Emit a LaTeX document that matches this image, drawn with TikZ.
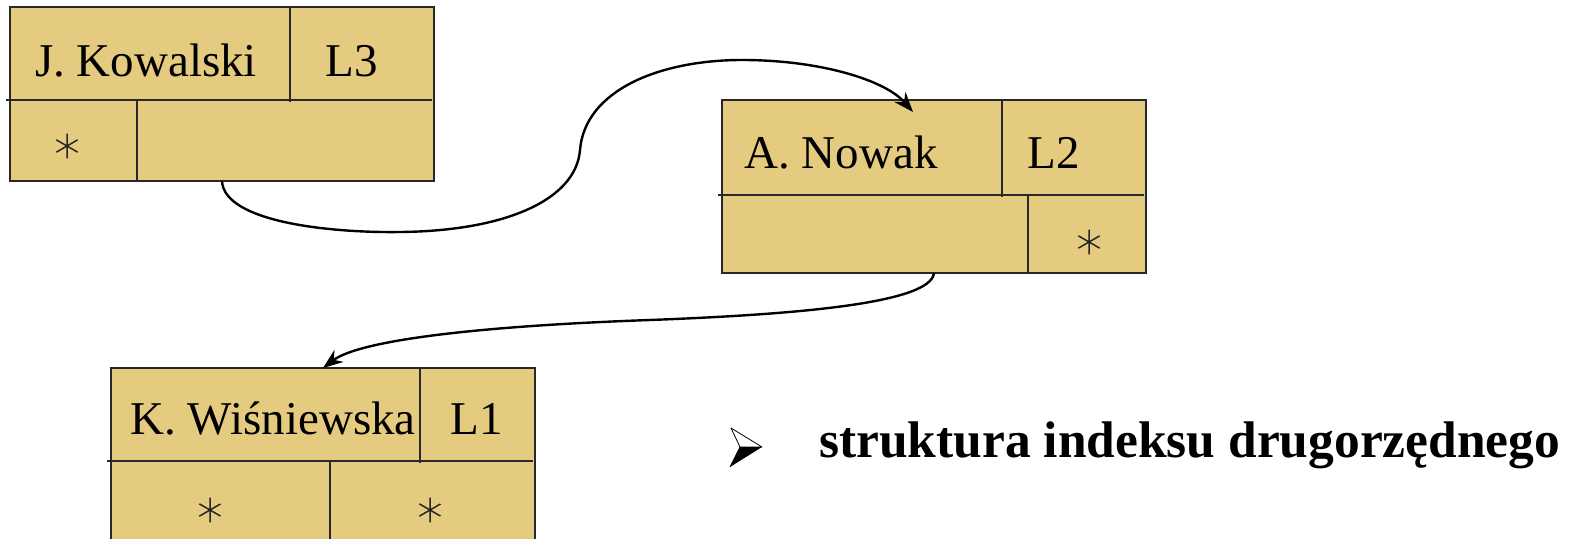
\documentclass[tikz,border=0pt]{standalone}
\usepackage{fontspec}
\setmainfont{Liberation Serif}
\usetikzlibrary{arrows.meta}
\definecolor{tan}{RGB}{229,203,128}
\definecolor{edge}{RGB}{40,40,40}
\tikzset{
  recbox/.style={draw=edge, line width=2pt, fill=tan, rectangle, inner sep=0pt, outer sep=0pt, anchor=north west},
  divline/.style={draw=edge, line width=1.8pt},
  celltext/.style={inner sep=0pt, anchor=base, font=\fontsize{47}{50}\selectfont},
  starmark/.style={inner sep=0pt, minimum size=25pt, circle, anchor=center,
    path picture={
      \draw[black!85, line width=1.5pt]
        ([yshift=12.5pt]path picture bounding box.center) -- ([yshift=-12.5pt]path picture bounding box.center)
        ([shift={(-10.8pt,6.25pt)}]path picture bounding box.center) -- ([shift={(10.8pt,-6.25pt)}]path picture bounding box.center)
        ([shift={(-10.8pt,-6.25pt)}]path picture bounding box.center) -- ([shift={(10.8pt,6.25pt)}]path picture bounding box.center);
    }},
  link/.style={draw=black, line width=2.4pt, -{Stealth[length=20pt,width=15pt]}},
  captiontext/.style={inner sep=0pt, anchor=base west, font=\fontsize{51.5}{56}\selectfont\bfseries}
}
\begin{document}
\begin{tikzpicture}[x=1pt,y=-1pt]
\clip (0,0) rectangle (1570,538);
\fill[white] (0,0) rectangle (1570,538);

% record 1
\node[recbox, minimum width=424pt, minimum height=174pt] (k) at (10,7) {};
\draw[divline] (6,100) -- (432,100);
\draw[divline] (290,7) -- (290,102);
\draw[divline] (137,100) -- (137,181);
\node[celltext] (kname) at (146,76) {J. Kowalski};
\node[celltext] (kl) at (352,76) {L3};
\node[starmark] (kstar) at (67,146) {};

% record 2
\node[recbox, minimum width=424pt, minimum height=173pt] (n) at (722,100) {};
\draw[divline] (718,195) -- (1144,195);
\draw[divline] (1002,100) -- (1002,197);
\draw[divline] (1028,195) -- (1028,273);
\node[celltext] (nname) at (841,168) {A. Nowak};
\node[celltext] (nl) at (1054,168) {L2};
\node[starmark] (nstar) at (1089,242) {};

% record 3
\node[recbox, minimum width=424pt, minimum height=180pt] (w) at (111,368) {};
\draw[divline] (107,461) -- (533,461);
\draw[divline] (420,368) -- (420,463);
\draw[divline] (330,461) -- (330,548);
\node[celltext] (wname) at (273,434) {K. Wiśniewska};
\node[celltext] (wl) at (477,434) {L1};
\node[starmark] (wstar1) at (210,510) {};
\node[starmark] (wstar2) at (430,510) {};

% connectors
\coordinate (nin) at (913,112);
\draw[link] (k.south) .. controls (224,222) and (330,233) .. (400,232)
  .. controls (505,231) and (576,200) .. (580,150)
  .. controls (585,90) and (660,60) .. (742,60)
  .. controls (820,60) and (885,80) .. (nin);
\draw[link] (n.south) .. controls (931,305) and (780,315) .. (650,320)
  .. controls (480,326) and (360,340) .. (w.north);

% bullet
\fill[black] (740,447) -- (762,447) -- (730,467) -- cycle;
\draw[black, line width=0.8pt, line join=round] (731,428) -- (762,447) -- (740,447) -- (730,467);
\draw[black, line width=0.8pt] (731,428) -- (740,447);
\node[captiontext] (caption) at (819,457) {struktura indeksu drugorzędnego};
\end{tikzpicture}
\end{document}
